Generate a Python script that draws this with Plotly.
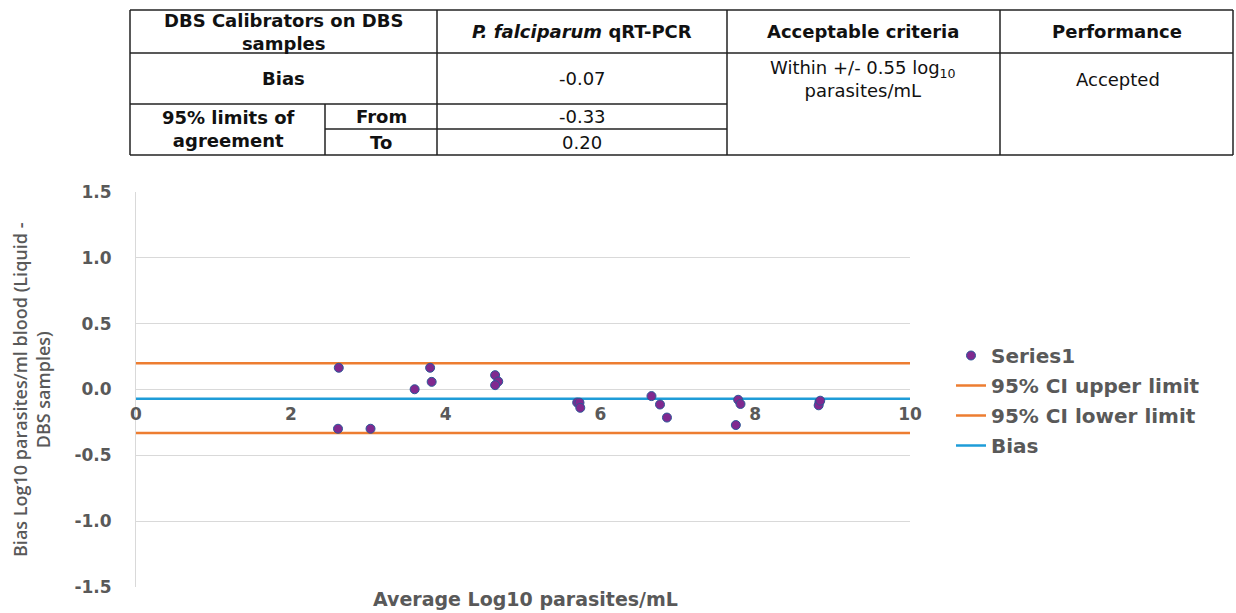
import plotly.graph_objects as go

# ---- data ----
avg_log10 = [2.62, 2.61, 3.03, 3.60, 3.80, 3.82, 4.64, 4.68, 4.64, 5.70, 5.73, 5.74,
             6.66, 6.77, 6.86, 7.78, 7.81, 7.75, 8.83, 8.82, 8.84]
diff_log10 = [0.165, -0.298, -0.298, 0.002, 0.165, 0.058, 0.109, 0.061, 0.033, -0.099, -0.100, -0.139,
              -0.050, -0.114, -0.213, -0.078, -0.110, -0.270, -0.094, -0.120, -0.085]
bias_value = -0.07
upper_limit = 0.20
lower_limit = -0.33
line_x = [0, 10]
x_ticks = [0, 2, 4, 6, 8, 10]
y_ticks = [-1.5, -1.0, -0.5, 0.0, 0.5, 1.0, 1.5]
y_tick_labels = ["-1.5", "-1.0", "-0.5", "0.0", "0.5", "1.0", "1.5"]

table_header = ["DBS Calibrators on DBS<br>samples", "<i>P. falciparum</i> qRT-PCR",
                "Acceptable criteria", "Performance"]
table_row_labels = ["Bias", "95% limits of<br>agreement", "From", "To"]
table_values = ["-0.07", "-0.33", "0.20"]
table_criteria = "Within +/- 0.55 log<sub>10</sub><br>parasites/mL"
table_performance = "Accepted"

# ---- layout geometry (pixels) ----
W, H = 1236, 613
L, R, T, B = 136, 910, 192, 587


def px(x):
    return (x - L) / (R - L)


def py(y):
    return (B - y) / (B - T)


GRAY = "#595959"
ORANGE = "#ED7D31"
BLUE = "#1E9CD8"
FONT = "DejaVu Sans"

fig = go.Figure()
fig.add_trace(go.Scatter(x=line_x, y=[upper_limit, upper_limit], mode="lines",
                         line=dict(color=ORANGE, width=2.5), name="95% CI upper limit",
                         legendrank=2, legendgroup="b"))
fig.add_trace(go.Scatter(x=line_x, y=[lower_limit, lower_limit], mode="lines",
                         line=dict(color=ORANGE, width=2.5), name="95% CI lower limit",
                         legendrank=3, legendgroup="c"))
fig.add_trace(go.Scatter(x=line_x, y=[bias_value, bias_value], mode="lines",
                         line=dict(color=BLUE, width=2.5), name="Bias",
                         legendrank=4, legendgroup="d"))
fig.add_trace(go.Scatter(x=avg_log10, y=diff_log10, mode="markers", name="Series1",
                         marker=dict(size=9, color="#80298F", line=dict(color="#2B5797", width=1)),
                         legendrank=1, legendgroup="a"))

shapes = []


def hline(y, x0, x1):
    shapes.append(dict(type="line", xref="paper", yref="paper", x0=px(x0), x1=px(x1),
                       y0=py(y), y1=py(y), line=dict(color="#222222", width=1.5)))


def vline(x, y0, y1):
    shapes.append(dict(type="line", xref="paper", yref="paper", x0=px(x), x1=px(x),
                       y0=py(y0), y1=py(y1), line=dict(color="#222222", width=1.5)))


hline(10, 130, 1233)
hline(53, 130, 1233)
hline(104, 130, 727)
hline(129, 325, 727)
hline(155, 130, 1233)
for xx in [130, 437, 727, 1000, 1233]:
    vline(xx, 10, 155)
vline(325, 104, 155)

annotations = []


def txt(x, y, s, bold=True, size=18, color="#111111", family=FONT):
    annotations.append(dict(xref="paper", yref="paper", x=px(x), y=py(y), text=s,
                            showarrow=False, xanchor="center", yanchor="middle",
                            font=dict(family=family, size=size, color=color,
                                      weight="bold" if bold else "normal")))


txt(283, 32, table_header[0])
txt(582, 31, table_header[1])
txt(863, 31, table_header[2])
txt(1117, 31, table_header[3])
txt(283, 78, table_row_labels[0])
txt(228, 129, table_row_labels[1])
txt(381, 116, table_row_labels[2])
txt(381, 142, table_row_labels[3])
txt(582, 78, table_values[0], bold=False)
txt(582, 116, table_values[1], bold=False)
txt(582, 142, table_values[2], bold=False)
txt(863, 79, table_criteria, bold=False)
txt(1118, 79, table_performance, bold=False)

# axis titles
annotations.append(dict(xref="paper", yref="paper", x=px(525), y=py(599),
                        text="Average Log10 parasites/mL", showarrow=False,
                        xanchor="center", yanchor="middle",
                        font=dict(family=FONT, size=19, color=GRAY, weight="bold")))
annotations.append(dict(xref="paper", yref="paper", x=px(31), y=py(390),
                        text="Bias Log10 parasites/ml blood (Liquid -<br>DBS samples)",
                        showarrow=False, textangle=-90, xanchor="center", yanchor="middle",
                        font=dict(family="Open Sans", size=18, color=GRAY, weight=600)))

fig.update_layout(
    width=W, height=H,
    margin=dict(l=L, r=W - R, t=T, b=H - B, pad=0),
    paper_bgcolor="white", plot_bgcolor="white",
    showlegend=True,
    legend=dict(x=px(951), y=py(336), xanchor="left", yanchor="top",
                font=dict(family=FONT, size=20, color=GRAY, weight="bold"),
                tracegroupgap=1, bgcolor="rgba(0,0,0,0)", itemwidth=30),
    xaxis=dict(range=[0, 10], tickvals=x_ticks, ticktext=[str(v) for v in x_ticks],
               anchor="free", position=0.5, showgrid=False, zeroline=False,
               showline=False, ticks="", ticklabelstandoff=12,
               tickfont=dict(family=FONT, size=17, color=GRAY, weight="bold")),
    yaxis=dict(range=[-1.5, 1.5], tickvals=y_ticks, ticktext=y_tick_labels,
               showgrid=True, gridcolor="#D9D9D9", gridwidth=1,
               zeroline=True, zerolinecolor="#D9D9D9", zerolinewidth=1,
               showline=True, linecolor="#D9D9D9", ticks="", ticklabelstandoff=20,
               tickfont=dict(family=FONT, size=17, color=GRAY, weight="bold")),
    shapes=shapes,
    annotations=annotations,
)

fig.write_html("out.html")
